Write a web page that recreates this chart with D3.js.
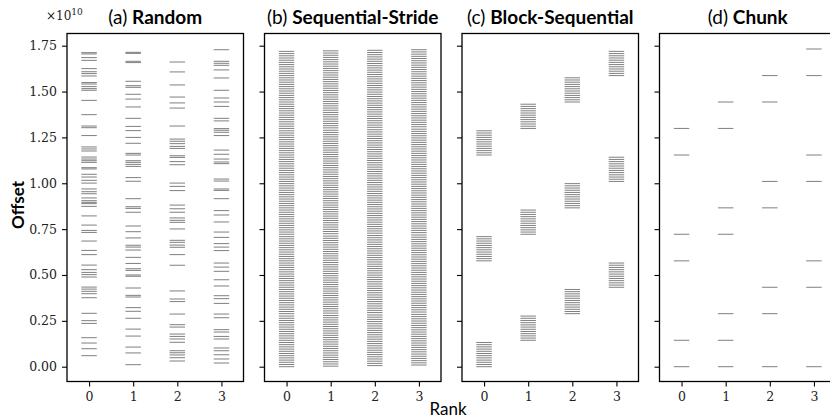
<!DOCTYPE html>
<html>
<head>
<meta charset="utf-8">
<script src="https://cdn.jsdelivr.net/npm/d3@7"></script>
<style>
  body { margin: 0; background: #fff; }
</style>
</head>
<body>
<div id="chart"></div>
<script>

var ranks = [0, 1, 2, 3];
var yTicks = [0, 0.25, 0.5, 0.75, 1.0, 1.25, 1.5, 1.75];
var panelTags = ["(a)", "(b)", "(c)", "(d)"];
var panelNames = ["Random", "Sequential-Stride", "Block-Sequential", "Chunk"];

// all offsets are in units of 1e10 bytes

// (a) random: one list per rank
var randomRank0 = [1.712, 1.705, 1.685, 1.670, 1.625, 1.608, 1.598, 1.585, 1.549, 1.541,
  1.527, 1.516, 1.507, 1.452, 1.374, 1.312, 1.303, 1.260, 1.198, 1.187, 1.176, 1.143,
  1.132, 1.123, 1.114, 1.085, 1.078, 1.049, 1.034, 1.016, 1.001, 0.969, 0.954, 0.943,
  0.920, 0.905, 0.896, 0.889, 0.874, 0.822, 0.772, 0.743, 0.732, 0.685, 0.634, 0.611,
  0.554, 0.529, 0.514, 0.502, 0.489, 0.434, 0.423, 0.411, 0.398, 0.376, 0.291, 0.251,
  0.236, 0.158, 0.129, 0.098, 0.060];
var randomRank1 = [1.714, 1.708, 1.665, 1.658, 1.556, 1.532, 1.523, 1.485, 1.459, 1.416,
  1.354, 1.310, 1.287, 1.250, 1.218, 1.163, 1.154, 1.123, 1.114, 1.103, 1.092, 1.031,
  1.011, 0.916, 0.872, 0.863, 0.842, 0.767, 0.736, 0.702, 0.662, 0.652, 0.636, 0.596,
  0.563, 0.534, 0.525, 0.500, 0.493, 0.429, 0.389, 0.380, 0.322, 0.302, 0.264, 0.205,
  0.167, 0.107, 0.075, 0.011];
var randomRank2 = [1.661, 1.607, 1.536, 1.470, 1.438, 1.410, 1.312, 1.241, 1.229, 1.216,
  1.201, 1.190, 1.150, 1.141, 1.118, 1.101, 1.001, 0.983, 0.960, 0.881, 0.861, 0.842,
  0.811, 0.798, 0.787, 0.751, 0.689, 0.678, 0.663, 0.651, 0.611, 0.553, 0.413, 0.369,
  0.355, 0.287, 0.229, 0.216, 0.178, 0.165, 0.151, 0.133, 0.087, 0.076, 0.064, 0.049,
  0.031];
var randomRank3 = [1.728, 1.665, 1.654, 1.643, 1.618, 1.574, 1.507, 1.465, 1.443, 1.419,
  1.354, 1.340, 1.298, 1.289, 1.278, 1.260, 1.181, 1.158, 1.132, 1.116, 1.107, 1.023,
  1.012, 0.969, 0.961, 0.916, 0.851, 0.827, 0.789, 0.734, 0.705, 0.671, 0.652, 0.633,
  0.565, 0.543, 0.520, 0.474, 0.440, 0.387, 0.371, 0.345, 0.287, 0.267, 0.202, 0.189,
  0.165, 0.151, 0.102, 0.087, 0.065, 0.042, 0.020];

// chunk boundaries (file split into equal chunks) and the request offsets inside one chunk
var chunkStarts = [0, 0.144, 0.289, 0.433, 0.577, 0.722, 0.866, 1.010, 1.154, 1.299,
  1.443, 1.587, 1.732];
var subOffsets = [0, 0.012, 0.024, 0.036, 0.048, 0.060, 0.072, 0.084, 0.096, 0.108,
  0.120, 0.132];

// (b) sequential-stride: every chunk, shifted by one small block per rank
var strideChunks = [0, 0.144, 0.289, 0.433, 0.577, 0.722, 0.866, 1.010, 1.154, 1.299,
  1.443, 1.587];
var strideShift = [0, 0.003, 0.006, 0.009];

// (c) block-sequential: chunks owned by each rank
var blockRank0 = [0, 0.577, 1.154];
var blockRank1 = [0.144, 0.722, 1.299];
var blockRank2 = [0.289, 0.866, 1.443];
var blockRank3 = [0.433, 1.010, 1.587];

// (d) chunk
var chunkRank0 = [0, 0.144, 0.577, 0.722, 1.154, 1.299];
var chunkRank1 = [0, 0.144, 0.289, 0.722, 0.866, 1.299, 1.443];
var chunkRank2 = [0, 0.289, 0.433, 0.866, 1.010, 1.443, 1.587];
var chunkRank3 = [0, 0.433, 0.577, 1.010, 1.154, 1.587, 1.732];


function flatten(lists) {
  var out = [];
  lists.forEach(function (vals, r) {
    vals.forEach(function (v) { out.push({ rank: r, offset: v }); });
  });
  return out;
}

function withSubs(starts) {
  var out = [];
  starts.forEach(function (s) {
    subOffsets.forEach(function (d) { out.push(s + d); });
  });
  return out;
}

var strideLists = strideShift.map(function (sh) {
  return withSubs(strideChunks).map(function (v) { return v + sh; });
});

var panelData = [
  flatten([randomRank0, randomRank1, randomRank2, randomRank3]),
  flatten(strideLists),
  flatten([blockRank0, blockRank1, blockRank2, blockRank3].map(withSubs)),
  flatten([chunkRank0, chunkRank1, chunkRank2, chunkRank3])
];

var width = 830, height = 418;
var panelLefts = [67, 264.5, 462, 659.5];
var panelW = 176.5;
var plotTop = 33.5, plotBottom = 381.5;

var svg = d3.select("#chart")
  .append("svg")
  .attr("width", width)
  .attr("height", height);

var y = d3.scaleLinear()
  .domain([-0.0807, 1.8165])
  .range([plotBottom, plotTop]);

panelData.forEach(function (data, i) {

  var left = panelLefts[i];
  var x = d3.scaleLinear()
    .domain([-0.5, 3.5])
    .range([left, left + panelW]);

  var g = svg.append("g");

  g.selectAll("line.mark")
    .data(data)
    .enter()
    .append("line")
    .attr("class", "mark")
    .attr("x1", function (d) { return x(d.rank - 0.175); })
    .attr("x2", function (d) { return x(d.rank + 0.175); })
    .attr("y1", function (d) { return y(d.offset); })
    .attr("y2", function (d) { return y(d.offset); })
    .style("stroke", "#000")
    .style("stroke-opacity", 0.5)
    .style("stroke-width", 1);

  var yAxis = d3.axisLeft(y)
    .tickValues(yTicks)
    .tickSize(5)
    .tickPadding(5)
    .tickFormat(i == 0 ? d3.format(".2f") : "");

  var ya = g.append("g")
    .attr("transform", "translate(" + left + ",0)")
    .call(yAxis);

  var xAxis = d3.axisBottom(x)
    .tickValues(ranks)
    .tickSize(5)
    .tickPadding(6)
    .tickFormat(d3.format("d"));

  var xa = g.append("g")
    .attr("transform", "translate(0," + plotBottom + ")")
    .call(xAxis);

  [ya, xa].forEach(function (a) {
    a.select(".domain").remove();
    a.selectAll(".tick line").style("stroke", "#000").style("stroke-width", 1.1);
    a.selectAll("text")
      .style("font-family", "'DejaVu Serif', serif")
      .style("font-size", "12.5px")
      .style("fill", "#222");
  });

  g.append("rect")
    .attr("x", left)
    .attr("y", plotTop)
    .attr("width", panelW)
    .attr("height", plotBottom - plotTop)
    .style("fill", "none")
    .style("stroke", "#000")
    .style("stroke-width", 1.3);

  var title = g.append("text")
    .attr("x", left + panelW / 2)
    .attr("y", 24)
    .style("font-family", "Lato, sans-serif")
    .style("font-size", "19px")
    .style("text-anchor", "middle")
    .style("fill", "#000");
  title.append("tspan").text(panelTags[i] + " ");
  title.append("tspan").style("font-weight", "bold").text(panelNames[i]);
});

// exponent label
var expo = svg.append("text")
  .attr("x", 46)
  .attr("y", 20)
  .style("font-family", "'DejaVu Serif', serif")
  .style("font-size", "12px")
  .style("fill", "#222");
expo.append("tspan").text("\u00d710");
expo.append("tspan")
  .attr("dy", -5)
  .style("font-size", "9px")
  .text("10");

svg.append("text")
  .attr("transform", "translate(24,205) rotate(-90)")
  .style("font-family", "Lato, sans-serif")
  .style("font-size", "17px")
  .style("font-weight", "bold")
  .style("text-anchor", "middle")
  .text("Offset");

svg.append("text")
  .attr("x", 448)
  .attr("y", 415)
  .style("font-family", "Lato, sans-serif")
  .style("font-size", "17px")
  .style("text-anchor", "middle")
  .text("Rank");

</script>
</body>
</html>
